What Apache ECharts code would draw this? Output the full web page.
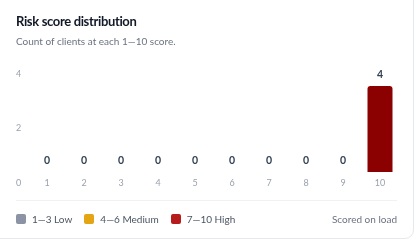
<!DOCTYPE html>
<html><head><meta charset="utf-8">
<script src="https://cdn.jsdelivr.net/npm/echarts@6/dist/echarts.min.js"></script>
<style>
html,body{margin:0;padding:0;background:#fff;width:418px;height:242px;overflow:hidden;font-family:Lato,"Noto Sans",sans-serif;}
#card{position:absolute;left:-10px;top:-10px;width:422px;height:247px;border:1px solid #e6e8ec;border-radius:9px;background:#fff;}
#chart{position:absolute;left:0;top:0;width:418px;height:242px;}
.t{position:absolute;left:16px;top:13px;font-size:13px;font-weight:700;color:#111827;letter-spacing:-0.35px;}
.s{position:absolute;left:16px;top:35px;font-size:10px;color:#6b7280;}
.sep{position:absolute;left:16px;top:200px;width:381px;height:1px;background:#f0f1f4;}
.lg{position:absolute;top:213px;left:16px;font-size:10px;color:#4b5563;display:flex;align-items:center;}
.lg span.sw{display:inline-block;width:10px;height:10px;border-radius:2px;margin-right:6px;}
.lg .it{display:flex;align-items:center;margin-right:12px;}
.r{position:absolute;right:21px;top:213px;font-size:10px;color:#6b7280;}
</style></head>
<body>
<div id="card"></div>
<div id="chart"></div>
<div class="t">Risk score distribution</div>
<div class="s">Count of clients at each 1—10 score.</div>
<div class="sep"></div>
<div class="lg" id="lg"></div>
<div class="r">Scored on load</div>
<script>
const categories = ['1','2','3','4','5','6','7','8','9','10'];
const counts = [0,0,0,0,0,0,0,0,0,4];
const yTicks = [0,2,4];
const legendLabels = ['1—3 Low','4—6 Medium','7—10 High'];
const legendColors = ['#8b93a5','#e3a514','#b71c1c'];

const lg = document.getElementById('lg');
legendLabels.forEach((l,i)=>{
  const d=document.createElement('div');d.className='it';
  d.innerHTML='<span class="sw" style="background:'+legendColors[i]+'"></span>'+l;
  lg.appendChild(d);
});

const chart = echarts.init(document.getElementById('chart'));
chart.setOption({
  animation:false,
  grid:[
    {left:28.5,right:19.5,top:86,bottom:70},
    {left:28,right:19.5,top:74,bottom:59}
  ],
  xAxis:[
    {type:'category',data:categories,gridIndex:0,axisLine:{show:false},axisTick:{show:false},
     axisLabel:{color:'#9aa1ad',fontSize:9,margin:7,fontFamily:'Lato'}},
    {type:'category',data:categories,gridIndex:1,show:false}
  ],
  yAxis:[
    {type:'value',gridIndex:0,min:0,max:4,show:false},
    {type:'value',gridIndex:1,min:yTicks[0],max:yTicks[yTicks.length-1],interval:2,
     axisLine:{show:false},axisTick:{show:false},splitLine:{show:false},
     axisLabel:{color:'#9aa1ad',fontSize:9,align:'left',margin:12,fontFamily:'Lato'}}
  ],
  series:[{
    type:'bar',xAxisIndex:0,yAxisIndex:0,data:counts,barWidth:25,
    itemStyle:{color:'#8b0000',borderRadius:[3,3,0,0]},
    label:{show:true,position:'top',distance:6,color:'#334155',fontWeight:'bold',fontSize:10.5,fontFamily:'Lato'}
  }]
});
</script>
</body></html>
